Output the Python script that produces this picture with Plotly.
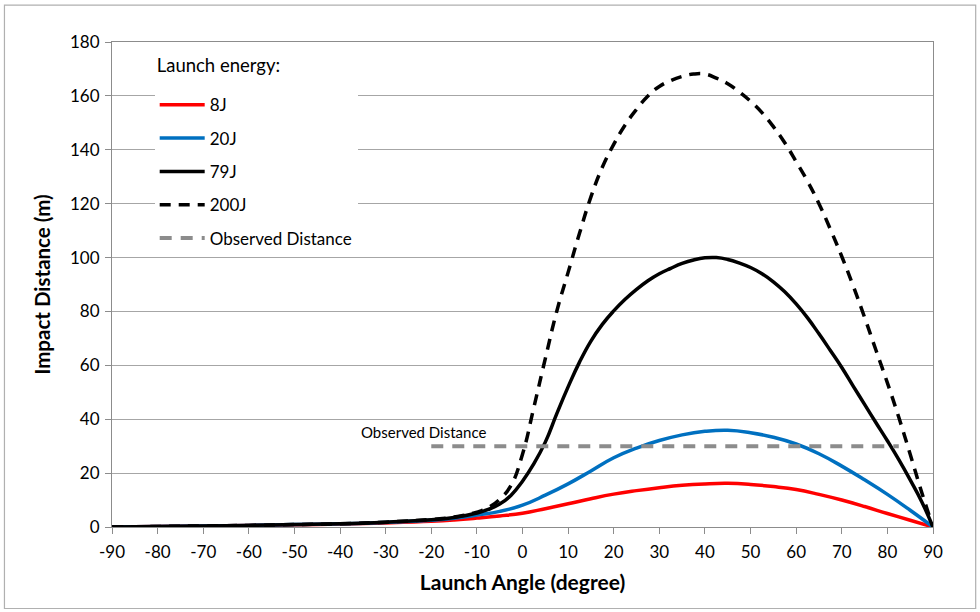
import plotly.graph_objects as go

# Impact distance (m) versus launch angle (degree) for several launch energies
x_8j = [-90, -80, -70, -60, -50, -40, -30, -20, -15, -10, -5, 0, 5, 10, 15, 20, 25, 30,
        35, 40, 45, 50, 55, 60, 65, 70, 75, 80, 85, 90]
y_8j = [0, 0.2, 0.4, 0.6, 0.8, 1.1, 1.5, 2.1, 2.6, 3.3, 4.1, 5.1, 6.8, 8.6, 10.5, 12.2, 13.5, 14.6,
        15.5, 16.0, 16.2, 15.8, 15.0, 13.9, 12.1, 10.0, 7.6, 5.0, 2.5, 0]

x_20j = [-90, -80, -70, -60, -50, -40, -30, -20, -15, -10, -5, 0, 5, 10, 15, 20, 25, 30,
         35, 40, 45, 50, 55, 60, 65, 70, 75, 80, 85, 90]
y_20j = [0, 0.2, 0.4, 0.6, 0.9, 1.2, 1.7, 2.5, 3.2, 4.4, 5.8, 8.1, 11.8, 16.0, 20.8, 25.7, 29.3, 32.1,
         34.2, 35.5, 35.9, 35.0, 33.3, 30.8, 27.2, 22.6, 17.5, 12.1, 6.2, 0]

x_79j = [-90, -80, -70, -60, -50, -40, -30, -20, -15, -10, -7.5, -5, -2.5, 0, 2.5, 5, 7.5, 10,
         12.5, 15, 17.5, 20, 22.5, 25, 27.5, 30, 32.5, 35, 37.5, 40, 42.5, 45, 47.5, 50, 52.5,
         55, 57.5, 60, 62.5, 65, 67.5, 70, 72.5, 75, 77.5, 80, 82.5, 85, 87.5, 90]
y_79j = [0, 0.2, 0.4, 0.6, 0.9, 1.2, 1.8, 2.7, 3.5, 5.2, 6.5, 8.5, 11.8, 17, 23.5, 31.5, 42, 52,
         61.2, 69.0, 75.2, 80.2, 84.5, 88.2, 91.4, 94, 96, 97.8, 99.1, 99.9, 100, 99.3, 98, 96.3, 94,
         91, 87.3, 82.8, 77.6, 71.7, 65.5, 59.2, 52.3, 45.5, 38.7, 32, 25, 17.5, 9.5, 0]

x_200j = [-90, -80, -70, -60, -50, -40, -30, -20, -15, -10, -7.5, -5, -2.5, 0, 2.5, 5, 7.5, 10,
          12.5, 15, 17.5, 20, 22.5, 25, 27.5, 30, 32.5, 35, 37.5, 40, 42.5, 45, 47.5, 50, 52.5,
          55, 57.5, 60, 62.5, 65, 67.5, 70, 72.5, 75, 77.5, 80, 82.5, 85, 87.5, 90]
y_200j = [0, 0.2, 0.4, 0.6, 0.9, 1.2, 1.8, 2.8, 3.7, 5.5, 7.2, 10.3, 15.5, 27, 44.5, 62.5, 80, 94.5,
          109, 122.5, 133.5, 142, 149.2, 155, 160, 163.5, 165.7, 167.2, 168.1, 168.1, 166.6, 164.5,
          161.5, 158, 153.8, 148.6, 142.6, 135.6, 128.3, 120, 110.5, 100.4, 89.5, 77.8, 65.6, 53.5,
          40.7, 27, 13, 0]

x_observed = [-20, 82.5]
y_observed = [30, 30]

x_ticks = list(range(-90, 91, 10))
y_ticks = list(range(0, 181, 20))

FONT = "Lato"
GRID = "#a6a6a6"

fig = go.Figure()

series = [
    ("8J", x_8j, y_8j, dict(color="#ff0000", width=3.5)),
    ("20J", x_20j, y_20j, dict(color="#0070c0", width=3.5)),
    ("79J", x_79j, y_79j, dict(color="#000000", width=3.5)),
    ("200J", x_200j, y_200j, dict(color="#000000", width=3.5, dash="11px,8px")),
]
for name, xs, ys, line in series:
    fig.add_trace(go.Scatter(
        x=xs, y=ys, mode="lines", name=name, legendgroup=name,
        line=dict(shape="spline", smoothing=1.3, **line),
    ))

fig.add_trace(go.Scatter(
    x=x_observed, y=y_observed, mode="lines", name="Observed Distance",
    legendgroup="obs",
    line=dict(color="#8c8c8c", width=4, dash="12px,9px"),
))

fig.add_annotation(
    x=-21.8, y=35.2, text="Observed Distance", showarrow=False,
    font=dict(family=FONT, size=15, color="#000000"),
)

# light outer frame around the whole chart
fig.add_shape(
    type="rect", xref="paper", yref="paper",
    x0=-0.131, x1=1.052, y0=-0.168, y1=1.076,
    line=dict(color="#b0b0b0", width=1.2), layer="below",
)

fig.update_layout(
    width=980, height=612,
    margin=dict(l=112, r=47, t=42, b=85),
    paper_bgcolor="white", plot_bgcolor="white",
    font=dict(family=FONT, size=17, color="#000000"),
    showlegend=True,
    legend=dict(
        x=0.052, y=0.971, xanchor="left", yanchor="top",
        bgcolor="white", borderwidth=0,
        title=dict(
            text="<span style='font-size:18.5px'>Launch energy:</span><br> ",
            font=dict(family=FONT, size=12),
        ),
        font=dict(family=FONT, size=17),
        tracegroupgap=8.2, itemwidth=45,
    ),
    xaxis=dict(
        range=[-90, 90], tickvals=x_ticks, ticktext=[str(v) for v in x_ticks],
        showgrid=False, zeroline=False,
        showline=True, linecolor="#8c8c8c", linewidth=1.2, mirror=True,
        ticks="outside", ticklen=6, tickcolor="#8c8c8c",
        tickfont=dict(family=FONT, size=17), ticklabelstandoff=3,
        title=dict(text="<b>Launch Angle (degree)</b>", font=dict(family=FONT, size=21), standoff=14),
    ),
    yaxis=dict(
        range=[0, 180], tickvals=y_ticks, ticktext=[str(v) for v in y_ticks],
        showgrid=True, gridcolor=GRID, gridwidth=1, zeroline=False,
        showline=True, linecolor="#8c8c8c", linewidth=1.2, mirror=True,
        ticks="outside", ticklen=6, tickcolor="#8c8c8c",
        tickfont=dict(family=FONT, size=17), ticklabelstandoff=2,
        title=dict(text="<b>Impact Distance (m)</b>", font=dict(family=FONT, size=20.5), standoff=13),
    ),
)

fig.write_html("out.html")
